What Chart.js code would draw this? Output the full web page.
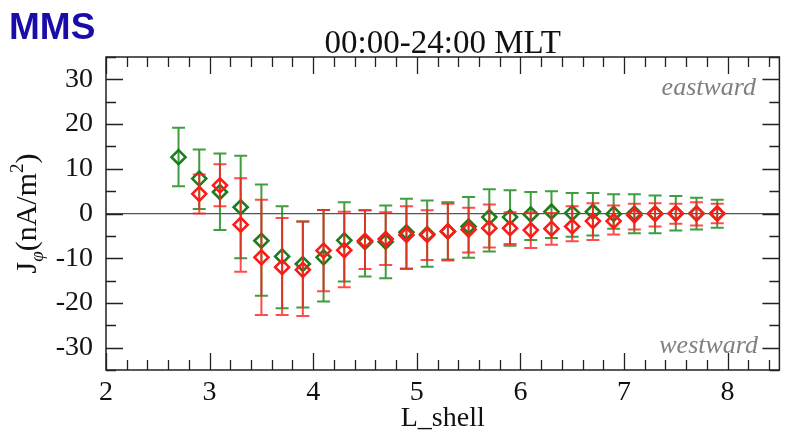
<!DOCTYPE html>
<html>
<head>
<meta charset="utf-8">
<script src="https://cdn.jsdelivr.net/npm/chart.js@4.4.0/dist/chart.umd.min.js"></script>
<style>
  body { margin: 0; background: #fff; }
  canvas { display: block; }
</style>
</head>
<body>
<canvas id="jphi" width="789" height="440"></canvas>
<script>
// L-shell bins
var lShellGreen = [2.7, 2.9, 3.1, 3.3, 3.5, 3.7, 3.9, 4.1, 4.3, 4.5, 4.7, 4.9, 5.1, 5.3, 5.5, 5.7, 5.9, 6.1, 6.3, 6.5, 6.7, 6.9, 7.1, 7.3, 7.5, 7.7, 7.9];
var lShellRed = [2.9, 3.1, 3.3, 3.5, 3.7, 3.9, 4.1, 4.3, 4.5, 4.7, 4.9, 5.1, 5.3, 5.5, 5.7, 5.9, 6.1, 6.3, 6.5, 6.7, 6.9, 7.1, 7.3, 7.5, 7.7, 7.9];

// green series: value, upper and lower end of error bar (nA/m^2)
var jGreen = [12.6, 7.8, 4.8, 1.4, -6.1, -9.6, -11.3, -9.8, -6.0, -6.4, -6.3, -4.2, -4.6, -4.0, -2.9, -0.8, -0.8, -0.2, 0.4, 0.1, 0.4, -0.1, 0.0, 0.0, 0.0, 0.0, 0.0];
var hiGreen = [19.2, 14.3, 13.4, 12.9, 6.5, 1.6, -1.8, 0.8, 2.5, 0.7, 1.8, 3.3, 2.9, 2.5, 3.7, 5.4, 5.2, 4.8, 5.0, 4.6, 4.6, 4.3, 4.3, 4.0, 3.9, 3.5, 3.1];
var loGreen = [6.1, 1.0, -3.7, -10.0, -18.4, -21.2, -21.0, -19.7, -15.2, -14.1, -14.5, -12.3, -11.9, -10.3, -9.9, -8.5, -7.2, -5.9, -5.5, -5.2, -4.9, -3.4, -4.4, -4.4, -3.8, -3.6, -3.2];

// red series
var jRed = [4.4, 6.3, -2.5, -9.8, -12.0, -12.6, -8.3, -8.2, -6.1, -5.7, -4.8, -4.8, -4.0, -3.6, -3.3, -3.3, -3.7, -3.4, -2.9, -1.7, -1.7, -0.4, -0.1, 0.0, 0.0, 0.0];
var hiRed = [8.7, 11.0, 7.9, 3.1, -1.0, -1.8, 0.8, 0.4, 0.7, 0.3, 1.6, 0.7, 2.2, 1.3, 2.0, 0.3, 0.2, 0.1, 1.6, 2.3, 1.8, 2.2, 2.3, 2.2, 2.5, 2.2];
var loRed = [0.0, 1.6, -13.0, -22.7, -22.7, -22.9, -17.4, -16.5, -12.4, -11.5, -12.4, -10.4, -10.5, -8.7, -7.6, -6.8, -7.7, -7.0, -6.2, -5.9, -4.7, -3.6, -2.9, -2.3, -2.7, -2.2];

var xTicks = [2, 3, 4, 5, 6, 7, 8];
var yTicks = [-30, -20, -10, 0, 10, 20, 30];

var serif = "'Liberation Serif', 'Times New Roman', serif";

function pts(xs, ys) {
    return xs.map(function (x, i) { return { x: x, y: ys[i] } });
}

// vertical error bars with caps, drawn under each dataset's markers
var errorBars = {
    id: 'errorBars',
    beforeDatasetDraw: function (chart, args) {
        var ds = chart.data.datasets[args.index];
        var xs = chart.scales.x, ys = chart.scales.y;
        var ctx = chart.ctx;
        ctx.save();
        ctx.strokeStyle = ds.errColor;
        ctx.lineWidth = 2;
        ds.data.forEach(function (p, i) {
            var px = xs.getPixelForValue(p.x);
            var top = ys.getPixelForValue(ds.errHi[i]);
            var bot = ys.getPixelForValue(ds.errLo[i]);
            ctx.beginPath();
            ctx.moveTo(px, top); ctx.lineTo(px, bot);
            ctx.moveTo(px - 6.5, top); ctx.lineTo(px + 6.5, top);
            ctx.moveTo(px - 6.5, bot); ctx.lineTo(px + 6.5, bot);
            ctx.stroke();
        });
        ctx.restore();
    }
};

// box, inward ticks on all four sides and the loose texts
var frame = {
    id: 'frame',
    afterDraw: function (chart) {
        var ctx = chart.ctx, a = chart.chartArea;
        var xs = chart.scales.x, ys = chart.scales.y;
        ctx.save();
        ctx.strokeStyle = '#222';
        ctx.lineWidth = 1.5;
        ctx.strokeRect(a.left, a.top, a.right - a.left, a.bottom - a.top);

        ctx.lineWidth = 1.3;
        ctx.beginPath();
        for (var i = 0; i <= 32; i++) {
            var v = xs.min + i * 0.2;
            var px = Math.round(xs.getPixelForValue(v)) + 0.5;
            var len = (i % 5 === 0) ? 17 : 10;
            ctx.moveTo(px, a.bottom); ctx.lineTo(px, a.bottom - len);
            ctx.moveTo(px, a.top); ctx.lineTo(px, a.top + len);
        }
        for (var j = 0; j <= 14; j++) {
            var yv = ys.min + j * 5;
            var py = Math.round(ys.getPixelForValue(yv)) + 0.5;
            var ylen = (yv % 10 === 0) ? 17 : 10;
            ctx.moveTo(a.left, py); ctx.lineTo(a.left + ylen, py);
            ctx.moveTo(a.right, py); ctx.lineTo(a.right - ylen, py);
        }
        ctx.stroke();

        // title
        ctx.fillStyle = '#111';
        ctx.font = '33px ' + serif;
        ctx.textAlign = 'center';
        ctx.textBaseline = 'alphabetic';
        ctx.fillText('00:00-24:00 MLT', (a.left + a.right) / 2, 53);

        // mission tag
        ctx.fillStyle = '#1a0ca8';
        ctx.font = "bold 37px 'Liberation Sans', Arial, sans-serif";
        ctx.textAlign = 'left';
        ctx.fillText('MMS', 9, 39);

        // direction notes
        ctx.fillStyle = '#808080';
        ctx.font = 'italic 26px ' + serif;
        ctx.textAlign = 'right';
        ctx.fillText('eastward', 756, 95);
        ctx.fillText('westward', 758, 353);

        // y axis title J_phi(nA/m^2), rotated
        ctx.translate(36, (a.top + a.bottom) / 2);
        ctx.rotate(-Math.PI / 2);
        ctx.fillStyle = '#111';
        var big = '30px ' + serif, small = 'italic 19px ' + serif, sup = '19px ' + serif;
        var parts = [
            { t: 'J', f: big, dy: 0 },
            { t: '\u03C6', f: small, dy: 7 },
            { t: '(nA/m', f: big, dy: 0 },
            { t: '2', f: sup, dy: -13 },
            { t: ')', f: big, dy: 0 }
        ];
        var w = 0;
        parts.forEach(function (p) { ctx.font = p.f; p.w = ctx.measureText(p.t).width; w += p.w });
        var x = -w / 2;
        ctx.textAlign = 'left';
        parts.forEach(function (p) {
            ctx.font = p.f;
            ctx.fillText(p.t, x, p.dy);
            x += p.w;
        });
        ctx.restore();
    }
};

var ctx = document.getElementById('jphi').getContext('2d');
var chart = new Chart(ctx, {
    type: 'scatter',
    data: {
        datasets: [{
            label: 'green',
            order: 1,
            data: pts(lShellGreen, jGreen),
            errHi: hiGreen,
            errLo: loGreen,
            errColor: 'rgba(30, 140, 30, 0.85)',
            borderColor: '#1d7d1d',
            backgroundColor: 'rgba(0,0,0,0)',
            pointStyle: 'rectRot',
            pointRadius: 7,
            pointBorderWidth: 2.6
        }, {
            label: 'red',
            order: 0,
            data: pts(lShellRed, jRed),
            errHi: hiRed,
            errLo: loRed,
            errColor: 'rgba(255, 30, 30, 0.8)',
            borderColor: '#ff1a1a',
            backgroundColor: 'rgba(0,0,0,0)',
            pointStyle: 'rectRot',
            pointRadius: 7,
            pointBorderWidth: 2.6
        }]
    },
    plugins: [errorBars, frame],
    options: {
        responsive: false,
        animation: false,
        layout: { padding: { top: 57, right: 9, left: 0, bottom: 0 } },
        plugins: {
            legend: { display: false },
            tooltip: { enabled: false }
        },
        scales: {
            x: {
                type: 'linear',
                min: 2,
                max: 8.5,
                afterBuildTicks: function (axis) {
                    axis.ticks = xTicks.map(function (v) { return { value: v } });
                },
                afterFit: function (axis) { axis.height = 70 },
                grid: { display: false, drawTicks: false },
                border: { display: false },
                ticks: { color: '#111', padding: 6, maxRotation: 0, font: { family: serif, size: 28 } },
                title: { display: true, text: 'L_shell', color: '#111', padding: { top: 0, bottom: 5 }, font: { family: serif, size: 28 } }
            },
            y: {
                min: -35,
                max: 35,
                afterBuildTicks: function (axis) {
                    axis.ticks = yTicks.map(function (v) { return { value: v } });
                },
                afterFit: function (axis) { axis.width = 106 },
                grid: {
                    drawTicks: false,
                    lineWidth: 1.2,
                    color: function (c) { return c.tick && c.tick.value === 0 ? '#555' : 'rgba(0,0,0,0)' }
                },
                border: { display: false },
                ticks: { color: '#111', padding: 13, font: { family: serif, size: 28 } }
            }
        }
    }
});
</script>
</body>
</html>
